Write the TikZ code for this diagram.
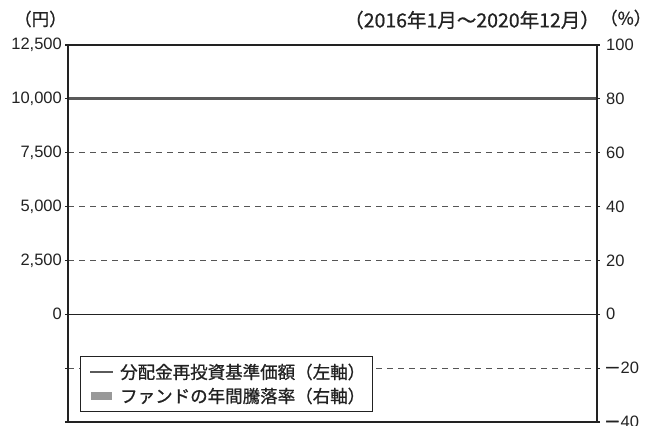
\documentclass[tikz,border=0pt]{standalone}
\usepackage{fontspec}
\setmainfont{Liberation Sans}
\newfontfamily\jpfont[FakeBold=0.8]{Noto Sans CJK JP}
\newfontfamily\jpminus[FakeBold=3]{Noto Sans CJK JP}
\definecolor{ink}{HTML}{222222}
\definecolor{gridc}{HTML}{555555}
\definecolor{navc}{HTML}{5A5A5A}
\definecolor{barc}{HTML}{999999}
\tikzset{
  frameline/.style={draw=ink, line width=1.2pt},
  gridline/.style={draw=gridc, line width=0.9pt, dash pattern=on 6pt off 5pt},
  zeroline/.style={draw=ink, line width=1.1pt},
  navline/.style={draw=navc, line width=2.8pt},
  tickmark/.style={draw=ink, line width=1.1pt},
  lefttick/.style={anchor=east, inner sep=0pt, text=ink, font=\fontsize{16.5}{18}\selectfont},
  righttick/.style={anchor=west, inner sep=0pt, text=ink, font=\fontsize{16.5}{18}\selectfont},
  jptext/.style={inner sep=0pt, text=ink, font=\jpfont\fontsize{17.5}{19}\selectfont},
  headtext/.style={inner sep=0pt, text=ink, font=\jpfont\fontsize{19.5}{21}\selectfont},
}
\begin{document}
\begin{tikzpicture}[x=1pt,y=-1pt]
\useasboundingbox (0,0) rectangle (646,426);
\clip (0,0) rectangle (646,426);
\def\yA{45}\def\yB{98.86}\def\yC{152.71}\def\yD{206.57}\def\yE{260.43}\def\yF{314.29}\def\yG{368.14}\def\yH{422}
\def\xL{68}\def\xR{597}
\foreach \yy in {\yC,\yD,\yE,\yG}{
  \draw[gridline] (\xL,\yy) -- (\xR,\yy);
}
\draw[zeroline] (\xL,\yF) -- (\xR,\yF);
\draw[navline] (\xL,\yB) -- (\xR,\yB);
\foreach \yy in {\yA,\yB,\yC,\yD,\yE,\yF,\yG,\yH}{
  \draw[tickmark] (\xL-3,\yy) -- (\xL,\yy);
  \draw[tickmark] (\xR,\yy) -- (\xR+3,\yy);
}
\draw[frameline] (\xL,\yA) rectangle (\xR,\yH);
\node[lefttick] (l125) at (62,\yA) {12,500};
\node[lefttick] (l100) at (62,\yB) {10,000};
\node[lefttick] (l75) at (62,\yC) {7,500};
\node[lefttick] (l50) at (62,\yD) {5,000};
\node[lefttick] (l25) at (62,\yE) {2,500};
\node[lefttick] (l0) at (62,\yF) {0};
\node[righttick] (r100) at (606,\yA) {100};
\node[righttick] (r80) at (606,\yB) {80};
\node[righttick] (r60) at (606,\yC) {60};
\node[righttick] (r40) at (606,\yD) {40};
\node[righttick] (r20) at (606,\yE) {20};
\node[righttick] (r0) at (606,\yF) {0};
\node[righttick] (rm20) at (604,\yG) {{\jpminus －}20};
\node[righttick] (rm40) at (604,\yH) {{\jpminus －}40};
\node[jptext, anchor=west] (yen) at (14,19) {（円）};
\node[headtext, anchor=east] (period) at (600,20) {（2016年1月～2020年12月）};
\node[jptext, anchor=west] (pct) at (600,18) {（\%）};
\node[draw=ink, line width=1pt, fill=white, minimum width=292pt, minimum height=55pt, anchor=north west, inner sep=0pt] (legend) at (80,356) {};
\draw[navline] (90,372) -- (113,372);
\fill[barc] (91,392) rectangle (112,400);
\node[jptext, anchor=west] (leg1) at (120,372) {分配金再投資基準価額（左軸）};
\node[jptext, anchor=west] (leg2) at (120,396) {ファンドの年間騰落率（右軸）};
\end{tikzpicture}
\end{document}
